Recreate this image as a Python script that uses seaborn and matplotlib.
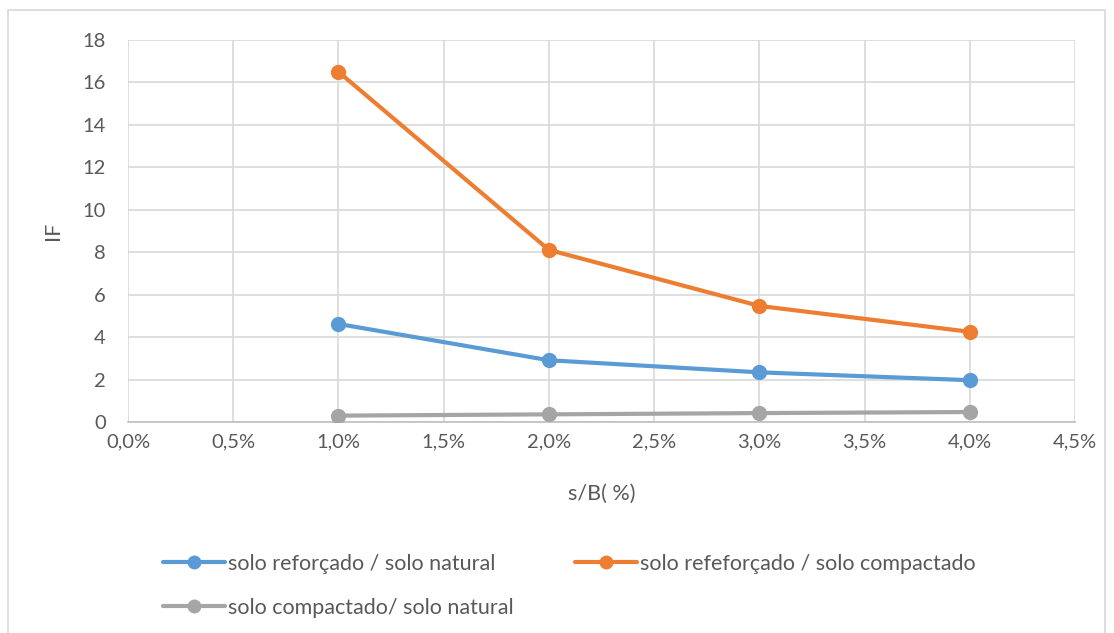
import matplotlib
matplotlib.use("Agg")
import matplotlib.pyplot as plt
import matplotlib.patches as mpatches
from matplotlib.ticker import FuncFormatter, MultipleLocator
import seaborn as sns
import pandas as pd

# s/B ratio (percent) and settlement improvement factors
sb_pct = [1.0, 2.0, 3.0, 4.0]
reforcado_natural = [4.62, 2.91, 2.34, 1.97]
reforcado_compactado = [16.5, 8.11, 5.47, 4.25]
compactado_natural = [0.30, 0.36, 0.42, 0.47]

series_names = [
    "solo reforçado / solo natural",
    "solo refeforçado / solo compactado",
    "solo compactado/ solo natural",
]
series_values = [reforcado_natural, reforcado_compactado, compactado_natural]
palette = ["#5B9BD5", "#ED7D31", "#A5A5A5"]

rows = []
for name, vals in zip(series_names, series_values):
    for x, v in zip(sb_pct, vals):
        rows.append({"s/B": x, "IF": v, "serie": name})
df = pd.DataFrame(rows)

sns.set_theme(style="white")
plt.rcParams["font.family"] = ["Lato", "DejaVu Sans"]
text_color = "#595959"

W, H = 1114, 633
fig = plt.figure(figsize=(W / 100, H / 100), dpi=100)
fig.patch.set_facecolor("white")

# chart frame (open at the bottom edge)
fig.add_artist(mpatches.Rectangle((8 / W, -0.02), (1105 - 8) / W, 1.02 - 10 / H,
                                  transform=fig.transFigure, fill=False,
                                  edgecolor="#D9D9D9", linewidth=1.2))

ax = fig.add_axes([128 / W, 1 - 422 / H, (1075 - 128) / W, (422 - 40) / H])

sns.lineplot(data=df, x="s/B", y="IF", hue="serie", hue_order=series_names,
             palette=palette, marker="o", markersize=11, markeredgewidth=0,
             linewidth=3, dashes=False, ax=ax, legend=False, zorder=3)

ax.set_xlim(0, 4.5)
ax.set_ylim(0, 18)
ax.xaxis.set_major_locator(MultipleLocator(0.5))
ax.yaxis.set_major_locator(MultipleLocator(2))
ax.xaxis.set_major_formatter(FuncFormatter(lambda v, p: f"{v:.1f}%".replace(".", ",")))
ax.grid(True, color="#D9D9D9", linewidth=1.2)
ax.set_axisbelow(True)
for side in ["top", "right", "left"]:
    ax.spines[side].set_visible(False)
ax.spines["bottom"].set_color("#BFBFBF")
ax.spines["bottom"].set_linewidth(1.2)
ax.tick_params(axis="both", length=0, labelsize=14.5, labelcolor=text_color)
ax.tick_params(axis="x", pad=8)
ax.tick_params(axis="y", pad=16)
ax.set_xlabel("s/B( %)", fontsize=15.5, color=text_color, labelpad=24)
ax.set_ylabel("IF", fontsize=15.5, color=text_color, labelpad=14)

# legend below the plot
handles = [plt.Line2D([], [], color=c, marker="o", markersize=10, markeredgewidth=0,
                      linewidth=3) for c in palette]
leg_pos = [(163, 564), (575, 564), (163, 608)]
for h, name, (px, py) in zip(handles, series_names, leg_pos):
    fig.legend([h], [name], loc="center left", bbox_to_anchor=(px / W, 1 - py / H),
               frameon=False, fontsize=15.5, labelcolor=text_color,
               handlelength=2.9, handletextpad=0.1, borderpad=0, borderaxespad=0)

fig.savefig("out.png", dpi=100, facecolor="white")
